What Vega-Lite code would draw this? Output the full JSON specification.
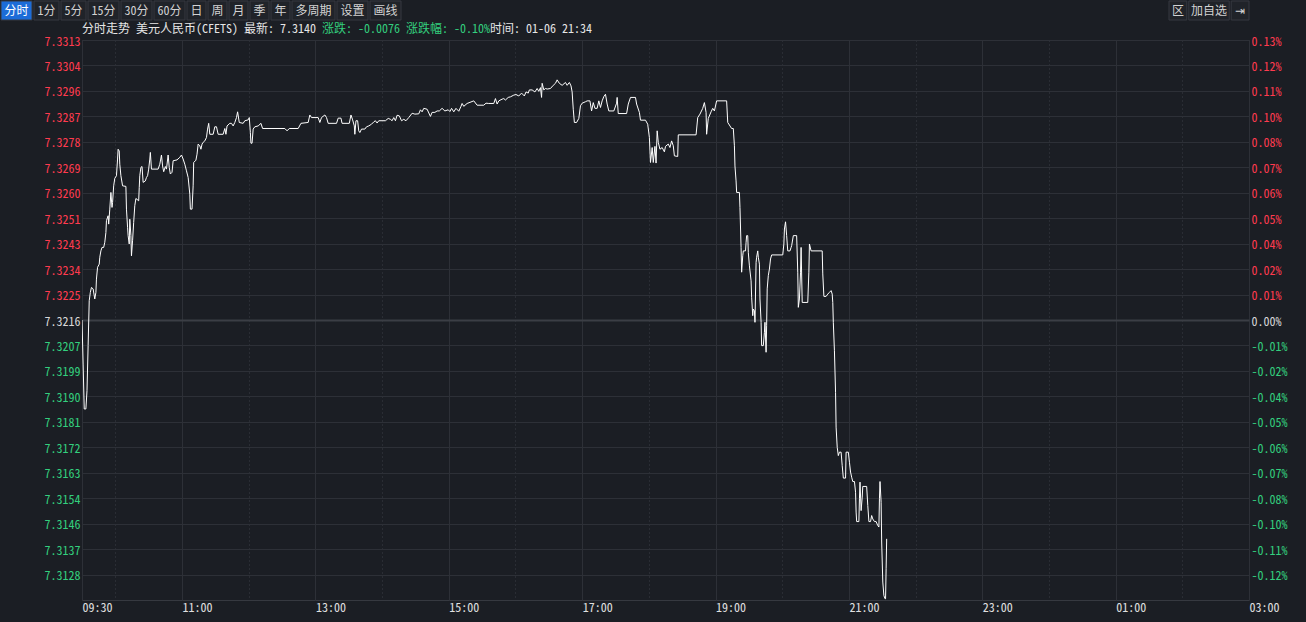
{
  "$schema": "https://vega.github.io/schema/vega-lite/v6.json",
  "background": "#1b1e24",
  "padding": 0,
  "config": {
    "font": "Noto Sans Mono CJK SC",
    "view": {"stroke": null}
  },
  "datasets": {
    "buttons": [
      {"label": "分时"}, {"label": "1分"}, {"label": "5分"}, {"label": "15分"}, {"label": "30分"}, {"label": "60分"}, {"label": "日"}, {"label": "周"}, {"label": "月"}, {"label": "季"}, {"label": "年"}, {"label": "多周期"}, {"label": "设置"}, {"label": "画线"}
    ],
    "rbuttons": [
      {"label": "区"}, {"label": "加自选"}, {"label": "⇥"}
    ],
    "price": [
      {"t":"2025-01-06T09:30:00","p":7.32160},{"t":"2025-01-06T09:31:00","p":7.32007},{"t":"2025-01-06T09:32:00","p":7.31851},{"t":"2025-01-06T09:33:30","p":7.31851},{"t":"2025-01-06T09:34:30","p":7.31915},{"t":"2025-01-06T09:35:30","p":7.32071},{"t":"2025-01-06T09:36:30","p":7.32227},{"t":"2025-01-06T09:37:30","p":7.32256},{"t":"2025-01-06T09:38:30","p":7.32273},{"t":"2025-01-06T09:40:00","p":7.32268},{"t":"2025-01-06T09:41:30","p":7.32233},{"t":"2025-01-06T09:42:30","p":7.32256},{"t":"2025-01-06T09:43:00","p":7.32302},{"t":"2025-01-06T09:44:00","p":7.32343},{"t":"2025-01-06T09:45:30","p":7.32354},{"t":"2025-01-06T09:46:00","p":7.32378},{"t":"2025-01-06T09:47:00","p":7.32400},{"t":"2025-01-06T09:48:00","p":7.32412},{"t":"2025-01-06T09:49:30","p":7.32412},{"t":"2025-01-06T09:50:30","p":7.32430},{"t":"2025-01-06T09:51:30","p":7.32464},{"t":"2025-01-06T09:52:00","p":7.32505},{"t":"2025-01-06T09:53:30","p":7.32522},{"t":"2025-01-06T09:54:00","p":7.32493},{"t":"2025-01-06T09:55:00","p":7.32545},{"t":"2025-01-06T09:56:00","p":7.32603},{"t":"2025-01-06T09:57:00","p":7.32551},{"t":"2025-01-06T09:57:30","p":7.32568},{"t":"2025-01-06T09:58:30","p":7.32626},{"t":"2025-01-06T09:59:30","p":7.32652},
      {"t":"2025-01-06T10:01:00","p":7.32661},{"t":"2025-01-06T10:02:00","p":7.32719},{"t":"2025-01-06T10:02:30","p":7.32753},{"t":"2025-01-06T10:03:30","p":7.32747},{"t":"2025-01-06T10:04:00","p":7.32701},{"t":"2025-01-06T10:05:00","p":7.32661},{"t":"2025-01-06T10:06:30","p":7.32626},{"t":"2025-01-06T10:09:30","p":7.32624},{"t":"2025-01-06T10:10:00","p":7.32545},{"t":"2025-01-06T10:11:00","p":7.32482},{"t":"2025-01-06T10:11:30","p":7.32453},{"t":"2025-01-06T10:12:30","p":7.32424},{"t":"2025-01-06T10:13:00","p":7.32510},{"t":"2025-01-06T10:14:00","p":7.32453},{"t":"2025-01-06T10:14:30","p":7.32383},{"t":"2025-01-06T10:15:30","p":7.32435},{"t":"2025-01-06T10:16:30","p":7.32499},{"t":"2025-01-06T10:17:30","p":7.32557},{"t":"2025-01-06T10:18:30","p":7.32582},{"t":"2025-01-06T10:21:00","p":7.32574},{"t":"2025-01-06T10:21:30","p":7.32620},{"t":"2025-01-06T10:22:00","p":7.32661},{"t":"2025-01-06T10:23:00","p":7.32690},{"t":"2025-01-06T10:24:00","p":7.32693},{"t":"2025-01-06T10:25:00","p":7.32638},{"t":"2025-01-06T10:27:00","p":7.32643},{"t":"2025-01-06T10:28:00","p":7.32655},{"t":"2025-01-06T10:29:00","p":7.32661},{"t":"2025-01-06T10:30:00","p":7.32684},{"t":"2025-01-06T10:31:00","p":7.32719},{"t":"2025-01-06T10:31:30","p":7.32742},{"t":"2025-01-06T10:32:30","p":7.32684},{"t":"2025-01-06T10:38:30","p":7.32684},{"t":"2025-01-06T10:40:00","p":7.32701},{"t":"2025-01-06T10:41:30","p":7.32733},{"t":"2025-01-06T10:42:30","p":7.32695},{"t":"2025-01-06T10:43:30","p":7.32675},{"t":"2025-01-06T10:45:00","p":7.32693},{"t":"2025-01-06T10:46:00","p":7.32684},{"t":"2025-01-06T10:47:30","p":7.32733},{"t":"2025-01-06T10:48:30","p":7.32690},{"t":"2025-01-06T10:49:30","p":7.32667},{"t":"2025-01-06T10:51:00","p":7.32673},{"t":"2025-01-06T10:52:00","p":7.32713},{"t":"2025-01-06T10:55:30","p":7.32716},{"t":"2025-01-06T10:58:00","p":7.32725},{"t":"2025-01-06T10:59:30","p":7.32733},
      {"t":"2025-01-06T11:01:00","p":7.32719},{"t":"2025-01-06T11:02:30","p":7.32701},{"t":"2025-01-06T11:04:00","p":7.32678},{"t":"2025-01-06T11:05:30","p":7.32655},{"t":"2025-01-06T11:07:00","p":7.32597},{"t":"2025-01-06T11:07:30","p":7.32545},{"t":"2025-01-06T11:09:00","p":7.32545},{"t":"2025-01-06T11:10:00","p":7.32626},{"t":"2025-01-06T11:10:30","p":7.32707},{"t":"2025-01-06T11:12:30","p":7.32715},{"t":"2025-01-06T11:13:30","p":7.32736},{"t":"2025-01-06T11:14:30","p":7.32771},{"t":"2025-01-06T11:16:00","p":7.32765},{"t":"2025-01-06T11:17:00","p":7.32753},{"t":"2025-01-06T11:18:00","p":7.32771},{"t":"2025-01-06T11:19:00","p":7.32777},{"t":"2025-01-06T11:20:30","p":7.32782},{"t":"2025-01-06T11:22:00","p":7.32794},{"t":"2025-01-06T11:23:00","p":7.32823},{"t":"2025-01-06T11:24:00","p":7.32843},{"t":"2025-01-06T11:25:00","p":7.32805},{"t":"2025-01-06T11:28:00","p":7.32805},{"t":"2025-01-06T11:29:30","p":7.32831},{"t":"2025-01-06T11:31:00","p":7.32831},{"t":"2025-01-06T11:32:30","p":7.32805},{"t":"2025-01-06T11:37:00","p":7.32805},{"t":"2025-01-06T11:38:30","p":7.32825},{"t":"2025-01-06T11:39:30","p":7.32805},{"t":"2025-01-06T11:40:30","p":7.32834},{"t":"2025-01-06T11:43:00","p":7.32843},{"t":"2025-01-06T11:44:30","p":7.32843},{"t":"2025-01-06T11:46:00","p":7.32834},{"t":"2025-01-06T11:47:30","p":7.32846},{"t":"2025-01-06T11:49:00","p":7.32863},{"t":"2025-01-06T11:50:00","p":7.32883},{"t":"2025-01-06T11:51:30","p":7.32846},{"t":"2025-01-06T11:55:00","p":7.32843},{"t":"2025-01-06T11:56:30","p":7.32852},{"t":"2025-01-06T11:59:30","p":7.32855},
      {"t":"2025-01-06T12:00:30","p":7.32863},{"t":"2025-01-06T12:01:30","p":7.32811},{"t":"2025-01-06T12:02:00","p":7.32774},{"t":"2025-01-06T12:03:00","p":7.32774},{"t":"2025-01-06T12:04:00","p":7.32823},{"t":"2025-01-06T12:05:30","p":7.32831},{"t":"2025-01-06T12:08:30","p":7.32834},{"t":"2025-01-06T12:11:00","p":7.32843},{"t":"2025-01-06T12:12:30","p":7.32825},{"t":"2025-01-06T12:32:30","p":7.32825},{"t":"2025-01-06T12:34:30","p":7.32817},{"t":"2025-01-06T12:36:30","p":7.32825},{"t":"2025-01-06T12:44:30","p":7.32825},{"t":"2025-01-06T12:47:00","p":7.32843},{"t":"2025-01-06T12:53:30","p":7.32846},{"t":"2025-01-06T12:55:00","p":7.32872},{"t":"2025-01-06T12:56:30","p":7.32863},
      {"t":"2025-01-06T13:02:30","p":7.32863},{"t":"2025-01-06T13:04:00","p":7.32846},{"t":"2025-01-06T13:05:30","p":7.32863},{"t":"2025-01-06T13:08:30","p":7.32872},{"t":"2025-01-06T13:10:00","p":7.32863},{"t":"2025-01-06T13:11:30","p":7.32843},{"t":"2025-01-06T13:19:00","p":7.32843},{"t":"2025-01-06T13:20:30","p":7.32861},{"t":"2025-01-06T13:23:00","p":7.32861},{"t":"2025-01-06T13:24:00","p":7.32843},{"t":"2025-01-06T13:30:30","p":7.32843},{"t":"2025-01-06T13:32:00","p":7.32872},{"t":"2025-01-06T13:33:30","p":7.32855},{"t":"2025-01-06T13:35:00","p":7.32834},{"t":"2025-01-06T13:35:30","p":7.32805},{"t":"2025-01-06T13:36:30","p":7.32852},{"t":"2025-01-06T13:38:00","p":7.32852},{"t":"2025-01-06T13:39:00","p":7.32817},{"t":"2025-01-06T13:40:00","p":7.32811},{"t":"2025-01-06T13:41:30","p":7.32823},{"t":"2025-01-06T13:44:30","p":7.32823},{"t":"2025-01-06T13:46:00","p":7.32831},{"t":"2025-01-06T13:48:00","p":7.32834},{"t":"2025-01-06T13:50:30","p":7.32840},{"t":"2025-01-06T13:52:30","p":7.32848},{"t":"2025-01-06T13:54:00","p":7.32852},{"t":"2025-01-06T13:55:30","p":7.32844},{"t":"2025-01-06T13:57:00","p":7.32852},
      {"t":"2025-01-06T14:03:00","p":7.32852},{"t":"2025-01-06T14:05:30","p":7.32860},{"t":"2025-01-06T14:07:30","p":7.32857},{"t":"2025-01-06T14:09:00","p":7.32852},{"t":"2025-01-06T14:10:30","p":7.32863},{"t":"2025-01-06T14:12:00","p":7.32852},{"t":"2025-01-06T14:13:30","p":7.32871},{"t":"2025-01-06T14:15:30","p":7.32869},{"t":"2025-01-06T14:17:30","p":7.32852},{"t":"2025-01-06T14:19:30","p":7.32857},{"t":"2025-01-06T14:21:30","p":7.32852},{"t":"2025-01-06T14:24:00","p":7.32863},{"t":"2025-01-06T14:27:00","p":7.32878},{"t":"2025-01-06T14:29:30","p":7.32875},{"t":"2025-01-06T14:33:00","p":7.32876},{"t":"2025-01-06T14:34:30","p":7.32890},{"t":"2025-01-06T14:36:00","p":7.32883},{"t":"2025-01-06T14:37:30","p":7.32895},{"t":"2025-01-06T14:40:30","p":7.32892},{"t":"2025-01-06T14:43:30","p":7.32867},{"t":"2025-01-06T14:45:00","p":7.32881},{"t":"2025-01-06T14:47:30","p":7.32881},{"t":"2025-01-06T14:49:30","p":7.32886},{"t":"2025-01-06T14:51:30","p":7.32886},{"t":"2025-01-06T14:54:00","p":7.32895},{"t":"2025-01-06T14:56:30","p":7.32886},{"t":"2025-01-06T14:59:30","p":7.32890},
      {"t":"2025-01-06T15:01:00","p":7.32884},{"t":"2025-01-06T15:02:30","p":7.32895},{"t":"2025-01-06T15:04:30","p":7.32883},{"t":"2025-01-06T15:06:30","p":7.32895},{"t":"2025-01-06T15:09:00","p":7.32885},{"t":"2025-01-06T15:11:00","p":7.32902},{"t":"2025-01-06T15:12:00","p":7.32912},{"t":"2025-01-06T15:13:30","p":7.32902},{"t":"2025-01-06T15:16:30","p":7.32912},{"t":"2025-01-06T15:22:30","p":7.32921},{"t":"2025-01-06T15:25:30","p":7.32906},{"t":"2025-01-06T15:31:30","p":7.32906},{"t":"2025-01-06T15:33:30","p":7.32913},{"t":"2025-01-06T15:36:00","p":7.32912},{"t":"2025-01-06T15:40:30","p":7.32912},{"t":"2025-01-06T15:42:00","p":7.32929},{"t":"2025-01-06T15:43:30","p":7.32910},{"t":"2025-01-06T15:45:00","p":7.32921},{"t":"2025-01-06T15:48:00","p":7.32927},{"t":"2025-01-06T15:49:30","p":7.32929},{"t":"2025-01-06T15:51:00","p":7.32924},{"t":"2025-01-06T15:53:30","p":7.32933},{"t":"2025-01-06T15:55:30","p":7.32935},{"t":"2025-01-06T15:58:30","p":7.32941},
      {"t":"2025-01-06T16:00:30","p":7.32943},{"t":"2025-01-06T16:03:00","p":7.32938},{"t":"2025-01-06T16:05:30","p":7.32948},{"t":"2025-01-06T16:08:00","p":7.32938},{"t":"2025-01-06T16:09:30","p":7.32952},{"t":"2025-01-06T16:11:30","p":7.32948},{"t":"2025-01-06T16:12:30","p":7.32959},{"t":"2025-01-06T16:15:00","p":7.32959},{"t":"2025-01-06T16:17:30","p":7.32952},{"t":"2025-01-06T16:19:30","p":7.32964},{"t":"2025-01-06T16:21:00","p":7.32954},{"t":"2025-01-06T16:22:30","p":7.32967},{"t":"2025-01-06T16:23:30","p":7.32933},{"t":"2025-01-06T16:24:00","p":7.32982},{"t":"2025-01-06T16:25:30","p":7.32959},{"t":"2025-01-06T16:27:00","p":7.32964},{"t":"2025-01-06T16:28:30","p":7.32962},{"t":"2025-01-06T16:31:30","p":7.32964},{"t":"2025-01-06T16:34:00","p":7.32975},{"t":"2025-01-06T16:36:00","p":7.32982},{"t":"2025-01-06T16:37:30","p":7.32994},{"t":"2025-01-06T16:39:30","p":7.32982},{"t":"2025-01-06T16:42:00","p":7.32975},{"t":"2025-01-06T16:45:00","p":7.32985},{"t":"2025-01-06T16:46:30","p":7.32975},{"t":"2025-01-06T16:48:30","p":7.32985},{"t":"2025-01-06T16:50:00","p":7.32973},{"t":"2025-01-06T16:51:00","p":7.32952},{"t":"2025-01-06T16:52:00","p":7.32892},{"t":"2025-01-06T16:53:00","p":7.32846},{"t":"2025-01-06T16:55:00","p":7.32846},{"t":"2025-01-06T16:57:00","p":7.32860},{"t":"2025-01-06T16:58:30","p":7.32904},
      {"t":"2025-01-06T17:00:00","p":7.32913},{"t":"2025-01-06T17:03:00","p":7.32918},{"t":"2025-01-06T17:04:30","p":7.32921},{"t":"2025-01-06T17:07:00","p":7.32921},{"t":"2025-01-06T17:08:30","p":7.32886},{"t":"2025-01-06T17:10:00","p":7.32915},{"t":"2025-01-06T17:11:30","p":7.32895},{"t":"2025-01-06T17:13:30","p":7.32895},{"t":"2025-01-06T17:15:00","p":7.32921},{"t":"2025-01-06T17:16:30","p":7.32898},{"t":"2025-01-06T17:18:00","p":7.32921},{"t":"2025-01-06T17:19:30","p":7.32936},{"t":"2025-01-06T17:21:00","p":7.32944},{"t":"2025-01-06T17:22:30","p":7.32910},{"t":"2025-01-06T17:24:00","p":7.32886},{"t":"2025-01-06T17:28:30","p":7.32886},{"t":"2025-01-06T17:31:00","p":7.32913},{"t":"2025-01-06T17:31:30","p":7.32933},{"t":"2025-01-06T17:32:30","p":7.32877},{"t":"2025-01-06T17:40:00","p":7.32877},{"t":"2025-01-06T17:41:30","p":7.32910},{"t":"2025-01-06T17:43:30","p":7.32933},{"t":"2025-01-06T17:48:00","p":7.32933},{"t":"2025-01-06T17:49:00","p":7.32910},{"t":"2025-01-06T17:51:30","p":7.32881},{"t":"2025-01-06T17:52:30","p":7.32854},{"t":"2025-01-06T17:57:00","p":7.32854},{"t":"2025-01-06T17:59:00","p":7.32840},
      {"t":"2025-01-06T18:00:30","p":7.32794},{"t":"2025-01-06T18:01:30","p":7.32707},{"t":"2025-01-06T18:03:00","p":7.32759},{"t":"2025-01-06T18:04:00","p":7.32707},{"t":"2025-01-06T18:05:30","p":7.32763},{"t":"2025-01-06T18:06:30","p":7.32705},{"t":"2025-01-06T18:07:30","p":7.32817},{"t":"2025-01-06T18:08:30","p":7.32777},{"t":"2025-01-06T18:10:00","p":7.32753},{"t":"2025-01-06T18:12:00","p":7.32759},{"t":"2025-01-06T18:14:00","p":7.32744},{"t":"2025-01-06T18:15:00","p":7.32763},{"t":"2025-01-06T18:17:30","p":7.32771},{"t":"2025-01-06T18:19:00","p":7.32759},{"t":"2025-01-06T18:20:30","p":7.32782},{"t":"2025-01-06T18:22:00","p":7.32765},{"t":"2025-01-06T18:23:00","p":7.32730},{"t":"2025-01-06T18:26:00","p":7.32728},{"t":"2025-01-06T18:26:30","p":7.32803},{"t":"2025-01-06T18:42:30","p":7.32803},{"t":"2025-01-06T18:44:00","p":7.32863},{"t":"2025-01-06T18:46:00","p":7.32875},{"t":"2025-01-06T18:48:30","p":7.32895},{"t":"2025-01-06T18:50:00","p":7.32915},{"t":"2025-01-06T18:51:30","p":7.32881},{"t":"2025-01-06T18:52:00","p":7.32805},{"t":"2025-01-06T18:53:30","p":7.32860},{"t":"2025-01-06T18:56:00","p":7.32883},{"t":"2025-01-06T18:57:30","p":7.32895},{"t":"2025-01-06T18:59:00","p":7.32886},
      {"t":"2025-01-06T19:01:00","p":7.32921},{"t":"2025-01-06T19:10:00","p":7.32921},{"t":"2025-01-06T19:11:00","p":7.32846},{"t":"2025-01-06T19:14:30","p":7.32825},{"t":"2025-01-06T19:16:00","p":7.32825},{"t":"2025-01-06T19:17:00","p":7.32765},{"t":"2025-01-06T19:17:30","p":7.32695},{"t":"2025-01-06T19:18:30","p":7.32643},{"t":"2025-01-06T19:19:00","p":7.32603},{"t":"2025-01-06T19:21:30","p":7.32603},{"t":"2025-01-06T19:22:00","p":7.32551},{"t":"2025-01-06T19:23:00","p":7.32412},{"t":"2025-01-06T19:23:30","p":7.32326},{"t":"2025-01-06T19:24:30","p":7.32383},{"t":"2025-01-06T19:25:00","p":7.32400},{"t":"2025-01-06T19:27:00","p":7.32400},{"t":"2025-01-06T19:27:30","p":7.32430},{"t":"2025-01-06T19:28:00","p":7.32453},{"t":"2025-01-06T19:29:00","p":7.32453},{"t":"2025-01-06T19:29:30","p":7.32395},{"t":"2025-01-06T19:30:30","p":7.32348},{"t":"2025-01-06T19:32:00","p":7.32296},{"t":"2025-01-06T19:32:30","p":7.32239},{"t":"2025-01-06T19:33:30","p":7.32175},{"t":"2025-01-06T19:34:00","p":7.32198},{"t":"2025-01-06T19:35:00","p":7.32192},{"t":"2025-01-06T19:35:30","p":7.32152},{"t":"2025-01-06T19:36:30","p":7.32360},{"t":"2025-01-06T19:37:00","p":7.32378},{"t":"2025-01-06T19:38:00","p":7.32400},{"t":"2025-01-06T19:38:30","p":7.32378},{"t":"2025-01-06T19:39:30","p":7.32354},{"t":"2025-01-06T19:40:00","p":7.32233},{"t":"2025-01-06T19:41:00","p":7.32152},{"t":"2025-01-06T19:41:30","p":7.32071},{"t":"2025-01-06T19:43:00","p":7.32071},{"t":"2025-01-06T19:44:00","p":7.32117},{"t":"2025-01-06T19:44:30","p":7.32152},{"t":"2025-01-06T19:45:30","p":7.32048},{"t":"2025-01-06T19:46:00","p":7.32140},{"t":"2025-01-06T19:46:30","p":7.32268},{"t":"2025-01-06T19:47:30","p":7.32314},{"t":"2025-01-06T19:48:30","p":7.32337},{"t":"2025-01-06T19:49:30","p":7.32372},{"t":"2025-01-06T19:50:30","p":7.32386},
      {"t":"2025-01-06T20:00:30","p":7.32386},{"t":"2025-01-06T20:01:30","p":7.32424},{"t":"2025-01-06T20:02:00","p":7.32476},{"t":"2025-01-06T20:03:00","p":7.32501},{"t":"2025-01-06T20:04:00","p":7.32453},{"t":"2025-01-06T20:05:00","p":7.32400},{"t":"2025-01-06T20:07:00","p":7.32400},{"t":"2025-01-06T20:08:00","p":7.32412},{"t":"2025-01-06T20:08:30","p":7.32418},{"t":"2025-01-06T20:10:00","p":7.32453},{"t":"2025-01-06T20:13:00","p":7.32453},{"t":"2025-01-06T20:14:00","p":7.32326},{"t":"2025-01-06T20:14:30","p":7.32204},{"t":"2025-01-06T20:15:30","p":7.32233},{"t":"2025-01-06T20:16:30","p":7.32326},{"t":"2025-01-06T20:17:00","p":7.32412},{"t":"2025-01-06T20:18:00","p":7.32221},{"t":"2025-01-06T20:23:00","p":7.32221},{"t":"2025-01-06T20:24:00","p":7.32326},{"t":"2025-01-06T20:24:30","p":7.32424},{"t":"2025-01-06T20:26:00","p":7.32400},{"t":"2025-01-06T20:36:00","p":7.32400},{"t":"2025-01-06T20:36:30","p":7.32320},{"t":"2025-01-06T20:37:30","p":7.32242},{"t":"2025-01-06T20:39:30","p":7.32242},{"t":"2025-01-06T20:41:00","p":7.32250},{"t":"2025-01-06T20:42:30","p":7.32256},{"t":"2025-01-06T20:44:00","p":7.32262},{"t":"2025-01-06T20:45:00","p":7.32250},{"t":"2025-01-06T20:45:30","p":7.32221},{"t":"2025-01-06T20:46:00","p":7.32152},{"t":"2025-01-06T20:47:00","p":7.32053},{"t":"2025-01-06T20:48:00","p":7.31909},{"t":"2025-01-06T20:48:30","p":7.31788},{"t":"2025-01-06T20:49:30","p":7.31718},{"t":"2025-01-06T20:50:30","p":7.31689},{"t":"2025-01-06T20:51:30","p":7.31701},{"t":"2025-01-06T20:53:00","p":7.31701},{"t":"2025-01-06T20:54:00","p":7.31654},{"t":"2025-01-06T20:55:00","p":7.31611},{"t":"2025-01-06T20:57:00","p":7.31611},{"t":"2025-01-06T20:57:30","p":7.31701},{"t":"2025-01-06T20:59:30","p":7.31701},
      {"t":"2025-01-06T21:00:30","p":7.31666},{"t":"2025-01-06T21:01:30","p":7.31632},{"t":"2025-01-06T21:02:30","p":7.31614},{"t":"2025-01-06T21:03:30","p":7.31599},{"t":"2025-01-06T21:05:00","p":7.31599},{"t":"2025-01-06T21:06:00","p":7.31562},{"t":"2025-01-06T21:06:30","p":7.31493},{"t":"2025-01-06T21:07:00","p":7.31460},{"t":"2025-01-06T21:09:00","p":7.31460},{"t":"2025-01-06T21:09:30","p":7.31539},{"t":"2025-01-06T21:10:00","p":7.31597},{"t":"2025-01-06T21:11:00","p":7.31498},{"t":"2025-01-06T21:12:00","p":7.31545},{"t":"2025-01-06T21:12:30","p":7.31582},{"t":"2025-01-06T21:16:00","p":7.31582},{"t":"2025-01-06T21:17:00","p":7.31516},{"t":"2025-01-06T21:18:00","p":7.31460},{"t":"2025-01-06T21:19:30","p":7.31460},{"t":"2025-01-06T21:20:30","p":7.31481},{"t":"2025-01-06T21:21:30","p":7.31469},{"t":"2025-01-06T21:23:00","p":7.31460},{"t":"2025-01-06T21:24:30","p":7.31460},{"t":"2025-01-06T21:26:00","p":7.31446},{"t":"2025-01-06T21:27:00","p":7.31441},{"t":"2025-01-06T21:27:30","p":7.31539},{"t":"2025-01-06T21:28:00","p":7.31599},{"t":"2025-01-06T21:29:00","p":7.31527},{"t":"2025-01-06T21:29:30","p":7.31389},{"t":"2025-01-06T21:30:30","p":7.31250},{"t":"2025-01-06T21:31:30","p":7.31203},{"t":"2025-01-06T21:32:30","p":7.31192},{"t":"2025-01-06T21:33:00","p":7.31192},{"t":"2025-01-06T21:33:30","p":7.31296},{"t":"2025-01-06T21:34:00","p":7.31400}
    ]
  },
  "columns": 1,
  "align": "none",
  "spacing": 1,
  "concat": [
    {
      "width": 1167,
      "height": 19,
      "encoding": {
        "y": {"datum": "toolbar", "type": "nominal", "axis": null, "scale": {"paddingInner": 0, "paddingOuter": 0}}
      },
      "layer": [
        {
          "data": {"name": "buttons"},
          "transform": [
            {"calculate": "length(datum.label) - length(replace(datum.label, regexp('[0-9]', 'g'), ''))", "as": "narrow"},
            {"calculate": "(2 * length(datum.label) - datum.narrow) * 6 + 9", "as": "w"},
            {"window": [{"op": "sum", "field": "w", "as": "x1"}], "frame": [null, 0]},
            {"calculate": "datum.x1 - datum.w", "as": "x0"},
            {"calculate": "datum.x0 + (datum.w - 2) / 2", "as": "xm"}
          ],
          "layer": [
            {
              "mark": {"type": "bar", "stroke": "#363940", "strokeWidth": 1, "x2Offset": -2},
              "encoding": {
                "x": {"field": "x0", "type": "quantitative", "axis": null, "scale": {"range": [-81, 321], "zero": true, "nice": false}},
                "x2": {"field": "x1"},
                "color": {"condition": {"test": "datum.label === '分时'", "value": "#1c6cd8"}, "value": "#202329"}
              }
            },
            {
              "mark": {"type": "text", "fontSize": 12, "baseline": "middle", "font": "Noto Sans Mono CJK SC"},
              "encoding": {
                "x": {"field": "xm", "type": "quantitative"},
                "text": {"field": "label"},
                "color": {"condition": {"test": "datum.label === '分时'", "value": "#ffffff"}, "value": "#d2d2d2"}
              }
            }
          ]
        },
        {
          "data": {"name": "rbuttons"},
          "transform": [
            {"calculate": "length(datum.label) - length(replace(datum.label, regexp('[0-9]', 'g'), ''))", "as": "narrow"},
            {"calculate": "(2 * length(datum.label) - datum.narrow) * 6 + 9", "as": "w"},
            {"window": [{"op": "sum", "field": "w", "as": "x1"}], "frame": [null, 0]},
            {"calculate": "datum.x1 - datum.w", "as": "x0"},
            {"calculate": "datum.x0 + (datum.w - 2) / 2", "as": "xm"}
          ],
          "layer": [
            {
              "mark": {"type": "bar", "stroke": "#363940", "strokeWidth": 1, "color": "#202329", "x2Offset": -2},
              "encoding": {
                "x": {"field": "x0", "type": "quantitative", "axis": null, "scale": {"range": [1087, 1169], "zero": true, "nice": false}},
                "x2": {"field": "x1"}
              }
            },
            {
              "mark": {"type": "text", "fontSize": 12, "baseline": "middle", "color": "#d2d2d2", "font": "Noto Sans Mono CJK SC"},
              "encoding": {
                "x": {"field": "xm", "type": "quantitative"},
                "text": {"field": "label"}
              }
            }
          ]
        }
      ],
      "resolve": {"scale": {"x": "independent"}}
    },
    {
      "width": 1167,
      "height": 560,
      "view": {"stroke": "#363940"},
      "title": {
        "text": "分时走势 美元人民币(CFETS) 最新: 7.3140\u00a0\u00a0\u00a0\u00a0\u00a0\u00a0\u00a0\u00a0\u00a0\u00a0\u00a0\u00a0\u00a0\u00a0\u00a0\u00a0\u00a0\u00a0\u00a0\u00a0\u00a0\u00a0\u00a0\u00a0\u00a0\u00a0\u00a0\u00a0\u00a0时间: 01-06 21:34",
        "subtitle": "\u200b\u00a0\u00a0\u00a0\u00a0\u00a0\u00a0\u00a0\u00a0\u00a0\u00a0\u00a0\u00a0\u00a0\u00a0\u00a0\u00a0\u00a0\u00a0\u00a0\u00a0\u00a0\u00a0\u00a0\u00a0\u00a0\u00a0\u00a0\u00a0\u00a0\u00a0\u00a0\u00a0\u00a0\u00a0\u00a0\u00a0\u00a0\u00a0\u00a0\u00a0涨跌: -0.0076 涨跌幅: -0.10%",
        "anchor": "start",
        "frame": "group",
        "font": "Noto Sans Mono CJK SC",
        "fontSize": 12,
        "fontWeight": "normal",
        "color": "#e6e6e6",
        "subtitleFont": "Noto Sans Mono CJK SC",
        "subtitleFontSize": 12,
        "subtitleColor": "#33cf7e",
        "subtitlePadding": -12,
        "offset": -1
      },
      "data": {"name": "price"},
      "encoding": {
        "x": {
          "field": "t",
          "type": "temporal",
          "scale": {"domain": [{"year": 2025, "month": 1, "date": 6, "hours": 9, "minutes": 30}, {"year": 2025, "month": 1, "date": 7, "hours": 3, "minutes": 0}]},
          "axis": {
            "title": null,
            "values": [
              {"year": 2025, "month": 1, "date": 6, "hours": 9, "minutes": 30},
              {"year": 2025, "month": 1, "date": 6, "hours": 10},
              {"year": 2025, "month": 1, "date": 6, "hours": 11},
              {"year": 2025, "month": 1, "date": 6, "hours": 12},
              {"year": 2025, "month": 1, "date": 6, "hours": 13},
              {"year": 2025, "month": 1, "date": 6, "hours": 14},
              {"year": 2025, "month": 1, "date": 6, "hours": 15},
              {"year": 2025, "month": 1, "date": 6, "hours": 16},
              {"year": 2025, "month": 1, "date": 6, "hours": 17},
              {"year": 2025, "month": 1, "date": 6, "hours": 18},
              {"year": 2025, "month": 1, "date": 6, "hours": 19},
              {"year": 2025, "month": 1, "date": 6, "hours": 20},
              {"year": 2025, "month": 1, "date": 6, "hours": 21},
              {"year": 2025, "month": 1, "date": 6, "hours": 22},
              {"year": 2025, "month": 1, "date": 6, "hours": 23},
              {"year": 2025, "month": 1, "date": 7, "hours": 0},
              {"year": 2025, "month": 1, "date": 7, "hours": 1},
              {"year": 2025, "month": 1, "date": 7, "hours": 2},
              {"year": 2025, "month": 1, "date": 7, "hours": 3}
            ],
            "labelExpr": "hours(datum.value) % 2 == 0 ? '' : timeFormat(datum.value, '%H:%M')",
            "labelAlign": "left",
            "labelBaseline": "top",
            "labelPadding": 2,
            "labelFont": "Noto Sans Mono CJK SC",
            "labelFontSize": 12,
            "labelColor": "#e0e0e0",
            "labelOverlap": false,
            "labelFlush": false,
            "labelBound": false,
            "ticks": false,
            "domain": false,
            "grid": true,
            "gridColor": {"condition": {"test": "hours(datum.value) % 2 == 0", "value": "#3a3d45"}, "value": "#2d3037"},
            "gridDash": {"condition": {"test": "hours(datum.value) % 2 == 0", "value": [1, 3]}, "value": []},
            "minExtent": 21,
            "maxExtent": 21
          }
        }
      },
      "layer": [
        {
          "mark": {"type": "line", "color": "#ffffff", "strokeWidth": 1, "clip": true},
          "encoding": {
            "y": {
              "field": "p",
              "type": "quantitative",
              "scale": {"domain": [7.311876, 7.331324], "zero": false, "nice": false},
              "axis": {
                "orient": "left",
                "title": null,
                "values": [7.31276, 7.313644, 7.314528, 7.315412, 7.316296, 7.31718, 7.318064, 7.318948, 7.319832, 7.320716, 7.3216, 7.322484, 7.323368, 7.324252, 7.325136, 7.32602, 7.326904, 7.327788, 7.328672, 7.329556, 7.33044, 7.331324],
                "labelExpr": "['7.3128','7.3137','7.3146','7.3154','7.3163','7.3172','7.3181','7.3190','7.3199','7.3207','7.3216','7.3225','7.3234','7.3243','7.3251','7.3260','7.3269','7.3278','7.3287','7.3296','7.3304','7.3313'][round((datum.value - 7.31276) / 0.000884)]",
                "labelColor": {"condition": [{"test": "datum.value > 7.32161", "value": "#ff3b4f"}, {"test": "datum.value < 7.32159", "value": "#33cf7e"}], "value": "#d8d8d8"},
                "labelFont": "Noto Sans Mono CJK SC",
                "labelFontSize": 12,
                "labelPadding": 2,
                "labelBaseline": "middle",
                "labelOffset": 1,
                "labelOverlap": false,
                "labelFlush": false,
                "labelBound": false,
                "ticks": false,
                "domain": false,
                "grid": true,
                "gridColor": {"condition": {"test": "abs(datum.value - 7.3216) < 0.000001", "value": "#3b3e45"}, "value": "#2d3037"},
                "gridWidth": {"condition": {"test": "abs(datum.value - 7.3216) < 0.000001", "value": 2}, "value": 1},
                "minExtent": 81,
                "maxExtent": 81
              }
            }
          }
        },
        {
          "mark": {"type": "line", "strokeOpacity": 0},
          "encoding": {
            "y": {
              "field": "p",
              "type": "quantitative",
              "scale": {"domain": [7.311876, 7.331324], "zero": false, "nice": false},
              "axis": {
                "orient": "right",
                "title": null,
                "values": [7.31276, 7.313644, 7.314528, 7.315412, 7.316296, 7.31718, 7.318064, 7.318948, 7.319832, 7.320716, 7.3216, 7.322484, 7.323368, 7.324252, 7.325136, 7.32602, 7.326904, 7.327788, 7.328672, 7.329556, 7.33044, 7.331324],
                "labelExpr": "['-0.12%','-0.11%','-0.10%','-0.08%','-0.07%','-0.06%','-0.05%','-0.04%','-0.02%','-0.01%','0.00%','0.01%','0.02%','0.04%','0.05%','0.06%','0.07%','0.08%','0.10%','0.11%','0.12%','0.13%'][round((datum.value - 7.31276) / 0.000884)]",
                "labelColor": {"condition": [{"test": "datum.value > 7.32161", "value": "#ff3b4f"}, {"test": "datum.value < 7.32159", "value": "#33cf7e"}], "value": "#d8d8d8"},
                "labelFont": "Noto Sans Mono CJK SC",
                "labelFontSize": 12,
                "labelPadding": 2,
                "labelBaseline": "middle",
                "labelOffset": 1,
                "labelOverlap": false,
                "labelFlush": false,
                "labelBound": false,
                "ticks": false,
                "domain": false,
                "grid": false,
                "minExtent": 58,
                "maxExtent": 58
              }
            }
          }
        }
      ],
      "resolve": {"scale": {"y": "independent"}}
    }
  ]
}
